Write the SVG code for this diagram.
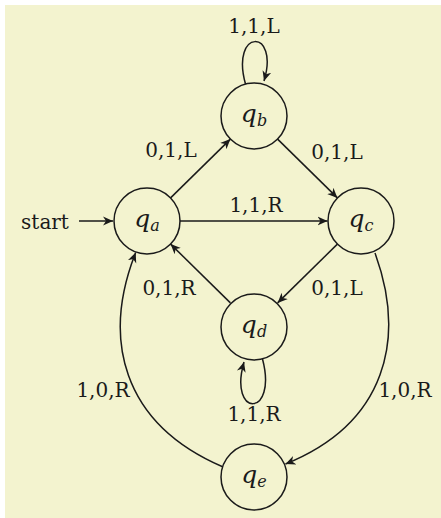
<svg xmlns="http://www.w3.org/2000/svg" width="441" height="518" viewBox="0 0 441 518">
<style>
.bg{fill:#f3f3cf}
.st{fill:none;stroke:#1a1a1a;stroke-width:1.5}
.nd{fill:none;stroke:#1a1a1a;stroke-width:1.5}
.lb{font-family:"DejaVu Serif","Liberation Serif",serif;font-size:20px;fill:#1a1a1a;text-anchor:middle}
.q{font-family:"DejaVu Serif","Liberation Serif",serif;font-style:italic;font-size:25px;fill:#1a1a1a;text-anchor:middle}
.sub{font-size:16px}
</style>
<defs>
<marker id="ah" markerUnits="userSpaceOnUse" markerWidth="14" markerHeight="12" refX="10" refY="6" orient="auto">
<path d="M0,1.5 L10,6 L0,10.5 L3,6 Z" fill="#1a1a1a"/>
</marker>
</defs>
<rect class="bg" x="5" y="5" width="436" height="513"/>
<g id="connectors">
<line class="st" x1="79" y1="221" x2="113" y2="221" marker-end="url(#ah)"/>
<line class="st" x1="170.6" y1="197.9" x2="230.4" y2="139.1" marker-end="url(#ah)"/>
<line class="st" x1="277.6" y1="139.1" x2="337.4" y2="197.9" marker-end="url(#ah)"/>
<line class="st" x1="180" y1="221" x2="327.5" y2="221" marker-end="url(#ah)"/>
<line class="st" x1="337.4" y1="244.1" x2="277.6" y2="302.9" marker-end="url(#ah)"/>
<line class="st" x1="230.4" y1="302.9" x2="170.6" y2="244.1" marker-end="url(#ah)"/>
<path class="st" d="M245.5,84 C230,28 280,28 264,81" marker-end="url(#ah)"/>
<path class="st" d="M262.5,359 C278,418 228,418 244,362" marker-end="url(#ah)"/>
<path class="st" d="M375,253 C406,338 387,423 285.5,464" marker-end="url(#ah)"/>
<path class="st" d="M222.6,466.8 C121,423 102,338 135.7,252.5" marker-end="url(#ah)"/>
<text class="lb" x="254" y="33">1,1,L</text>
<text class="lb" x="171" y="157">0,1,L</text>
<text class="lb" x="337" y="159">0,1,L</text>
<text class="lb" x="256" y="212">1,1,R</text>
<text class="lb" x="337" y="295">0,1,L</text>
<text class="lb" x="169" y="295">0,1,R</text>
<text class="lb" x="254" y="421">1,1,R</text>
<text class="lb" x="103" y="397">1,0,R</text>
<text class="lb" x="405" y="397">1,0,R</text>
<text class="lb" x="45" y="229" font-size="25">start</text>
</g>
<g id="qa"><circle class="nd" cx="147" cy="221" r="33"/><text class="q" x="147" y="227">q<tspan class="sub" dy="4">a</tspan></text></g>
<g id="qb"><circle class="nd" cx="254" cy="116" r="33"/><text class="q" x="254" y="122">q<tspan class="sub" dy="4">b</tspan></text></g>
<g id="qc"><circle class="nd" cx="361" cy="221" r="33"/><text class="q" x="361" y="227">q<tspan class="sub" dy="4">c</tspan></text></g>
<g id="qd"><circle class="nd" cx="254" cy="327" r="33"/><text class="q" x="254" y="333">q<tspan class="sub" dy="4">d</tspan></text></g>
<g id="qe"><circle class="nd" cx="254" cy="477" r="33"/><text class="q" x="254" y="483">q<tspan class="sub" dy="4">e</tspan></text></g>
</svg>
